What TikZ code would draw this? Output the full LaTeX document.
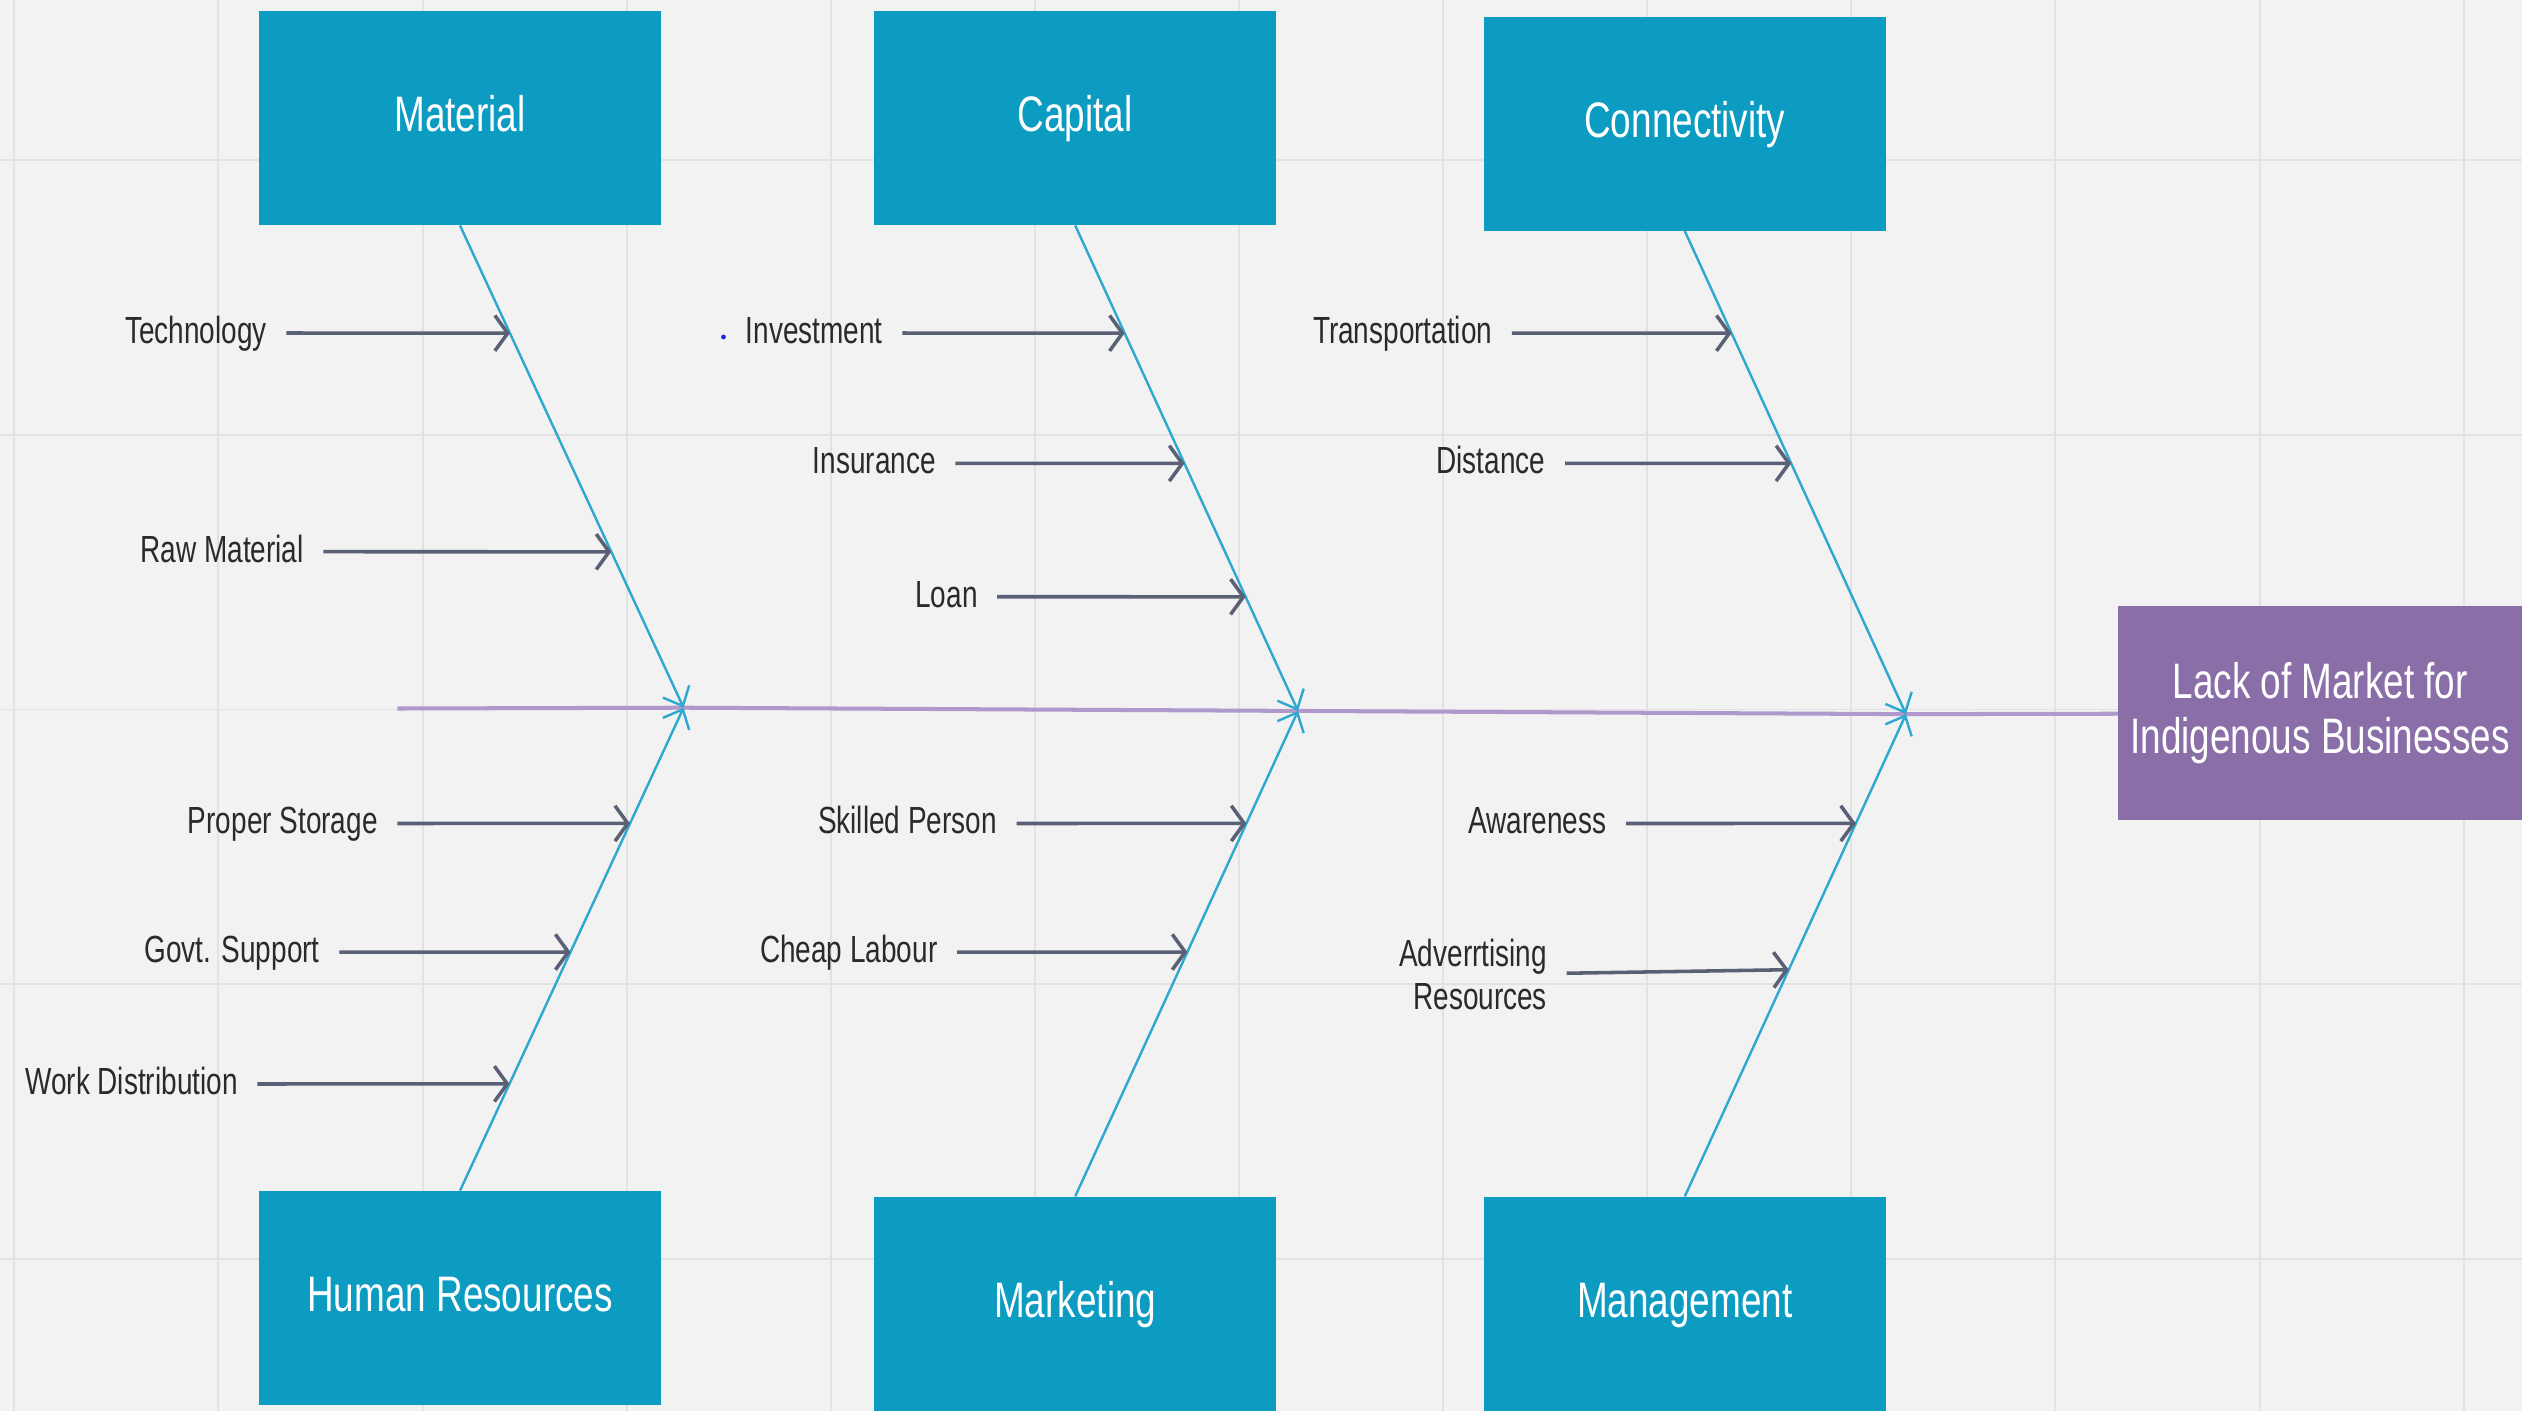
\documentclass[tikz,border=0pt]{standalone}
\usepackage{fontspec}
\setmainfont{Liberation Sans}[FakeStretch=0.74]
\usetikzlibrary{arrows.meta,calc}
\definecolor{bg}{HTML}{F2F2F2}
\definecolor{gridgray}{HTML}{E2E2E2}
\definecolor{boxcyan}{HTML}{0C9BC1}
\definecolor{effpurple}{HTML}{8A6EA8}
\definecolor{bonecyan}{HTML}{2EA8CF}
\definecolor{itemgray}{HTML}{5A6075}
\definecolor{txtgray}{HTML}{2A2A2A}
\definecolor{spinepurple}{HTML}{AE98CC}
\definecolor{dotblue}{HTML}{2424E0}
\begin{document}
\begin{tikzpicture}[x=1pt,y=-1pt,
  titlebox/.style={fill=boxcyan, text=white, minimum width=250pt, minimum height=133pt, inner sep=0pt, text height=22pt, text depth=5pt, font=\fontsize{31}{34}\selectfont},
  effectbox/.style={fill=effpurple, text=white, minimum width=251pt, minimum height=133pt, inner sep=0pt, align=center, font=\fontsize{31}{34}\selectfont},
  lbl/.style={anchor=east, inner xsep=12pt, inner ysep=0pt, text=txtgray, font=\fontsize{23.5}{27}\selectfont, text height=17.6pt, text depth=4.7pt},
  lbltwo/.style={anchor=east, inner xsep=12pt, inner ysep=0pt, text=txtgray, align=right, font=\fontsize{23.5}{27}\selectfont},
  item/.style={draw=itemgray, line width=2.2pt, -{Straight Barb[length=8pt,width=22pt]}},
  bone/.style={draw=bonecyan, line width=1.5pt, -{Straight Barb[length=10pt,width=18pt]}},
  spine/.style={draw=spinepurple, line width=2.5pt},
  gridline/.style={draw=gridgray, line width=1.2pt}]
% background and grid
\useasboundingbox (0,0) rectangle (1568,877);
\fill[bg] (0,0) rectangle (1568,877);
\foreach \k in {0,...,12}{\draw[gridline] ({8.9+126.9*\k},0) -- ({8.9+126.9*\k},877);}
\foreach \k in {0,...,4}{\draw[gridline] (0,{99.5+170.8*\k}) -- (1568,{99.5+170.8*\k});}
% boxes
\node[titlebox] (mat) at (286,73.5) {Material};
\node[titlebox] (cap) at (668.5,73.5) {Capital};
\node[titlebox] (con) at (1047.5,77) {Connectivity};
\node[titlebox] (hr) at (286,807) {Human Resources};
\node[titlebox] (mkt) at (668.5,810.5) {Marketing};
\node[titlebox] (mgt) at (1047.5,810.5) {Management};
\node[effectbox] (eff) at (1442.5,443.5) {Lack of Market for\\Indigenous Businesses};
% spine
\coordinate (tail) at (247,440.5);
\coordinate (j1) at (425,440);
\coordinate (j2) at (807,442);
\coordinate (j3) at (1185,444);
\draw[spine] (tail) -- (j1) -- (j2) -- (j3) -- (eff);
% bones
\draw[bone] (mat.south) -- (j1);
\draw[bone] (hr.north) -- (j1);
\draw[bone] (cap.south) -- (j2);
\draw[bone] (mkt.north) -- (j2);
\draw[bone] (con.south) -- (j3);
\draw[bone] (mgt.north) -- (j3);
% points on bones
\coordinate (m1) at ($(mat.south)!0.2233!(j1)$);
\coordinate (m2) at ($(mat.south)!0.6767!(j1)$);
\coordinate (c1) at ($(cap.south)!0.2219!(j2)$);
\coordinate (c2) at ($(cap.south)!0.4901!(j2)$);
\coordinate (c3) at ($(cap.south)!0.7649!(j2)$);
\coordinate (n1) at ($(con.south)!0.2113!(j3)$);
\coordinate (n2) at ($(con.south)!0.4809!(j3)$);
\coordinate (h1) at ($(hr.north)!0.7604!(j1)$);
\coordinate (h2) at ($(hr.north)!0.4942!(j1)$);
\coordinate (h3) at ($(hr.north)!0.2213!(j1)$);
\coordinate (k1) at ($(mkt.north)!0.7682!(j2)$);
\coordinate (k2) at ($(mkt.north)!0.5033!(j2)$);
\coordinate (g1) at ($(mgt.north)!0.7733!(j3)$);
\coordinate (g2) at ($(mgt.north)!0.47!(j3)$);
% labels
\node[lbl] (tech) at (178,207) {Technology};
\node[lbl] (raw) at (201,343) {Raw Material};
\node[lbl] (inv) at (561,207) {Investment};
\node[lbl] (ins) at (594,288) {Insurance};
\node[lbl] (loan) at (620,371) {Loan};
\node[lbl] (trans) at (940,207) {Transportation};
\node[lbl] (dist) at (973,288) {Distance};
\node[lbl] (store) at (247,512) {Proper Storage};
\node[lbl] (govt) at (211,592) {Govt. Support};
\node[lbl] (work) at (160,674) {Work Distribution};
\node[lbl] (skill) at (632,512) {Skilled Person};
\node[lbl] (cheap) at (595,592) {Cheap Labour};
\node[lbl] (aware) at (1011,512) {Awareness};
\node[lbltwo] (adv) at (974,606) {Adverrtising\\Resources};
\node[circle, fill=dotblue, inner sep=0pt, minimum size=3pt] (dot) at (449.8,209.5) {};
% item arrows
\draw[item] (tech) -- (m1);
\draw[item] (raw) -- (m2);
\draw[item] (inv) -- (c1);
\draw[item] (ins) -- (c2);
\draw[item] (loan) -- (c3);
\draw[item] (trans) -- (n1);
\draw[item] (dist) -- (n2);
\draw[item] (store) -- (h1);
\draw[item] (govt) -- (h2);
\draw[item] (work) -- (h3);
\draw[item] (skill) -- (k1);
\draw[item] (cheap) -- (k2);
\draw[item] (aware) -- (g1);
\draw[item] (adv) -- (g2);
\end{tikzpicture}
\end{document}
